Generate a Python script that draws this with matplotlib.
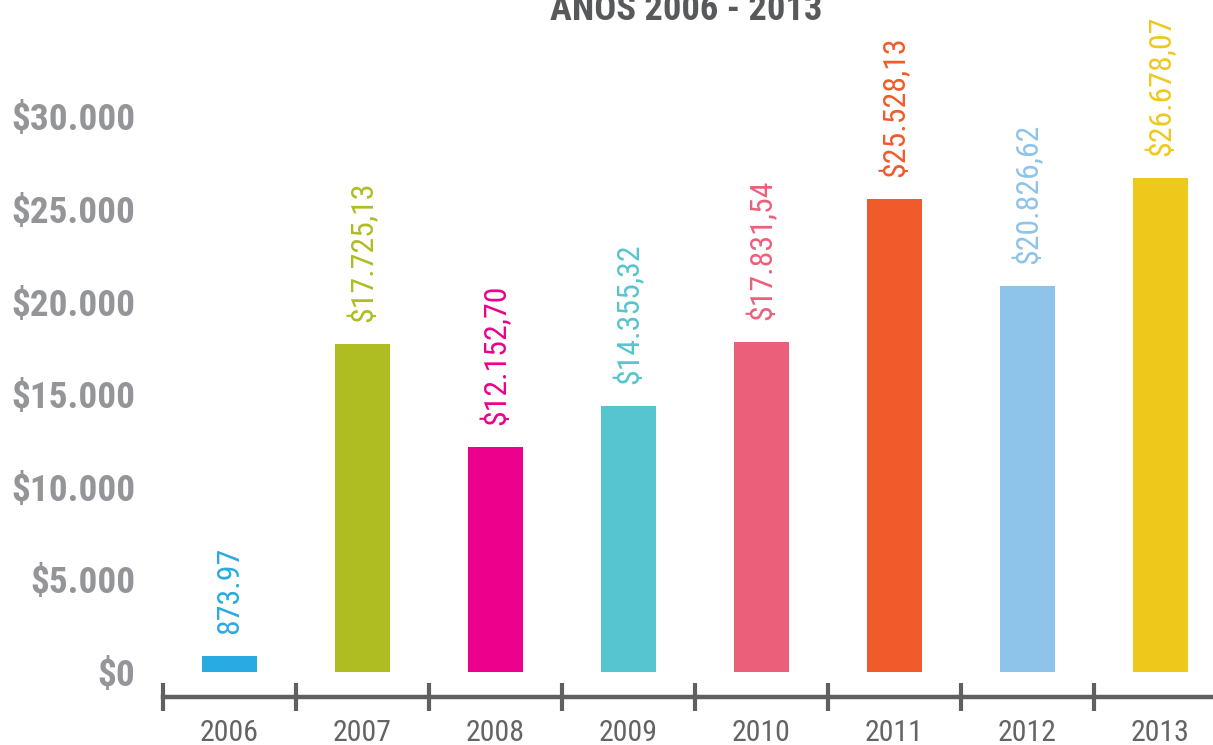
import matplotlib
matplotlib.use("Agg")
import matplotlib.pyplot as plt
from matplotlib import font_manager
from matplotlib.font_manager import FontProperties

years = ["2006", "2007", "2008", "2009", "2010", "2011", "2012", "2013"]
values = [873.97, 17725.13, 12152.70, 14355.32, 17831.54, 25528.13, 20826.62, 26678.07]
value_labels = ["873.97", "$17.725,13", "$12.152,70", "$14.355,32", "$17.831,54",
                "$25.528,13", "$20.826,62", "$26.678,07"]
colors = ["#29abe2", "#afbd22", "#ec008c", "#56c5d0", "#eb5f7a", "#f15a2b", "#8fc4ea", "#eec91c"]
yticks = [0, 5000, 10000, 15000, 20000, 25000, 30000]
ytick_labels = ["$0", "$5.000", "$10.000", "$15.000", "$20.000", "$25.000", "$30.000"]
title = "ANOS 2006 - 2013"

PREF = ["roboto", "liberationsansnarrow", "dejavusanscondensed", "arial", "helvet"]


def find_font(bold):
    """Look for an installed condensed / narrow face, else use Liberation Sans."""
    best = None
    for f in font_manager.fontManager.ttflist:
        fn = f.fname.lower()
        base = fn.rsplit("/", 1)[-1].replace("-", "").replace("_", "")
        narrow = ("narrow" in fn or "condensed" in fn or
                  str(f.stretch) in ("condensed", "semi-condensed", "extra-condensed"))
        if not narrow or "italic" in fn or "oblique" in fn or f.style != "normal":
            continue
        w = f.weight if isinstance(f.weight, int) else 400
        if abs(w - (700 if bold else 400)) > 150:
            continue
        pref = next((i for i, p in enumerate(PREF) if p in base), len(PREF))
        score = (pref, abs(w - (700 if bold else 400)))
        if best is None or score < best[0]:
            best = (score, f.fname)
    if best is not None:
        return FontProperties(fname=best[1])
    return FontProperties(family=["Liberation Sans", "DejaVu Sans"],
                          weight="bold" if bold else "normal")


fp_reg = find_font(False)
fp_bold = find_font(True)

W, H = 1213, 745
fig = plt.figure(figsize=(W / 100, H / 100), dpi=100)
renderer = fig.canvas.get_renderer()


def fit_size(text, fp, target_px, base=20.0, grow=1.0):
    t = fig.text(0, 0, text, fontproperties=fp, fontsize=base)
    w = t.get_window_extent(renderer).width
    t.remove()
    return base * target_px / w * grow


s_ytick = fit_size("$30.000", fp_bold, 121, grow=1.02)
s_year = fit_size("2006", fp_reg, 59)
s_val = fit_size("$17.725,13", fp_reg, 140)
s_title = fit_size(title, fp_bold, 272)

ax = fig.add_axes([163 / W, 1 - 697 / H, 1 - 163 / W, 697 / H])

x = list(range(len(years)))
ax.bar(x, values, width=0.41, color=colors, zorder=2)

ppu = 0.01852
ax.set_ylim(-(697 - 672) / ppu, 672 / ppu)
ax.set_xlim(-0.5, -0.5 + (W - 163) / 133.0)

for xi, v, lab, c in zip(x, values, value_labels, colors):
    ax.annotate(lab, (xi, v), xytext=(0, 22 * 0.72), textcoords="offset points",
                rotation=90, ha="center", va="bottom", color=c,
                fontproperties=fp_reg, fontsize=s_val, annotation_clip=False)

ax.set_yticks(yticks)
ax.set_yticklabels(ytick_labels, fontproperties=fp_bold, fontsize=s_ytick, color="#939598")
ax.tick_params(axis="y", length=0, pad=20)

ax.set_xticks(x)
ax.set_xticklabels(years, fontproperties=fp_reg, fontsize=s_year, color="#636466")
ax.tick_params(axis="x", length=0, pad=16)
for b in [i - 0.5 for i in range(len(years) + 1)]:
    ax.plot([b, b], [(672 - 683) / ppu, (672 - 711) / ppu], color="#5f6062",
            lw=3.0, clip_on=False, solid_capstyle="butt", zorder=3)

for s in ["top", "right", "left"]:
    ax.spines[s].set_visible(False)
ax.spines["bottom"].set_color("#5f6062")
ax.spines["bottom"].set_linewidth(3.2)

fig.text(686 / W, 1 - 20 / H, title, ha="center", va="baseline",
         fontproperties=fp_bold, fontsize=s_title, color="#58595b")

fig.savefig("out.png", dpi=100)
